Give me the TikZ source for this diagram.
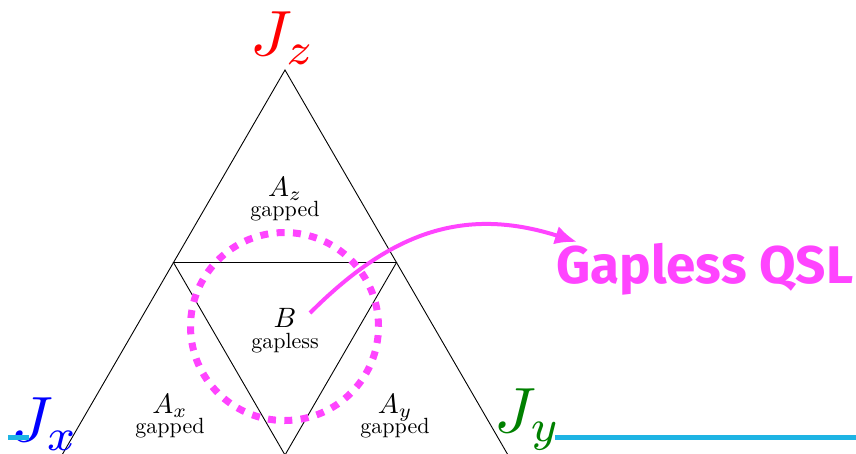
\documentclass[tikz,border=0pt]{standalone}
\usepackage{fontspec}
\usepackage{graphicx}
\usepackage{tikz}
\usetikzlibrary{positioning,arrows.meta,calc}
\newfontfamily\qslfont{Fira Sans}
\definecolor{PhaseMagenta}{HTML}{FF44FF}
\definecolor{AxisCyan}{HTML}{1EB4E4}
\definecolor{CouplingBlue}{HTML}{0000FF}
\definecolor{CouplingGreen}{HTML}{008000}
\definecolor{CouplingRed}{HTML}{FF0000}
\newcommand{\phaselabel}[1]{\scalebox{2.8}{$#1$}}
\newcommand{\gaplabel}[1]{\scalebox{2.2}{#1}}
\newcommand{\couplinglabel}[1]{\scalebox{6.4}{$#1$}}

\begin{document}
\begin{tikzpicture}[
    x=1pt, y=-1pt,
    edge/.style={draw=black, line width=0.9pt},
    phase/.style={anchor=base, inner sep=0pt},
    gaptext/.style={anchor=base, inner sep=0pt},
    coupling/.style={anchor=base, inner sep=0pt},
    qslring/.style={circle, draw=PhaseMagenta, line width=7pt, dash pattern=on 8pt off 8.4pt, minimum size=188pt, inner sep=0pt},
    axisline/.style={draw=AxisCyan, line width=5pt}
  ]
    \useasboundingbox (0,0) rectangle (856,453);

    \coordinate (top) at (285,70);
    \coordinate (left) at (62,455);
    \coordinate (right) at (508,455);
    \coordinate (midl) at ($(top)!0.5!(left)$);
    \coordinate (midr) at ($(top)!0.5!(right)$);
    \coordinate (midb) at ($(left)!0.5!(right)$);

    \draw[edge] (top) -- (left) -- (right) -- cycle;
    \draw[edge] (midl) -- (midr) -- (midb) -- cycle;

    \node[phase] (Az) at (285,196) {\phaselabel{A_z}};
    \node[gaptext] (Azgap) at (285,216) {\gaplabel{gapped}};
    \node[phase] (B) at (285,327) {\phaselabel{B}};
    \node[gaptext] (Bgap) at (285,348) {\gaplabel{gapless}};
    \node[phase] (Ax) at (170,413) {\phaselabel{A_x}};
    \node[gaptext] (Axgap) at (170,433) {\gaplabel{gapped}};
    \node[phase] (Ay) at (395,413) {\phaselabel{A_y}};
    \node[gaptext] (Aygap) at (395,433) {\gaplabel{gapped}};

    \node[coupling, text=CouplingRed] (Jz) at (283,55) {\couplinglabel{J_z}};
    \node[coupling, text=CouplingBlue] (Jx) at (45,441) {\couplinglabel{J_x}};
    \node[coupling, text=CouplingGreen] (Jy) at (528,432) {\couplinglabel{J_y}};

    \node[qslring] (ring) at (284.5,326.5) {};

    \node[anchor=base west, inner sep=0pt, text=PhaseMagenta, font=\qslfont\bfseries\fontsize{53}{53}\selectfont] (qsl) at (556,283) {Gapless QSL};

    \coordinate (arrowstart) at (310,313);
    \coordinate (arrowend) at (577,242);
    \draw[PhaseMagenta, line width=4pt, -{Latex[length=22pt,width=19pt]}] (arrowstart) .. controls (388,235) and (461,205) .. (arrowend);

    \coordinate (jyaxis) at (555,437);
    \coordinate (axisend) at (856,437);
    \coordinate (jxaxis) at (8,437);
    \coordinate (jxaxisend) at (29,437);
    \draw[axisline] (jyaxis) -- (axisend);
    \draw[axisline] (jxaxis) -- (jxaxisend);
  \end{tikzpicture}
\end{document}
